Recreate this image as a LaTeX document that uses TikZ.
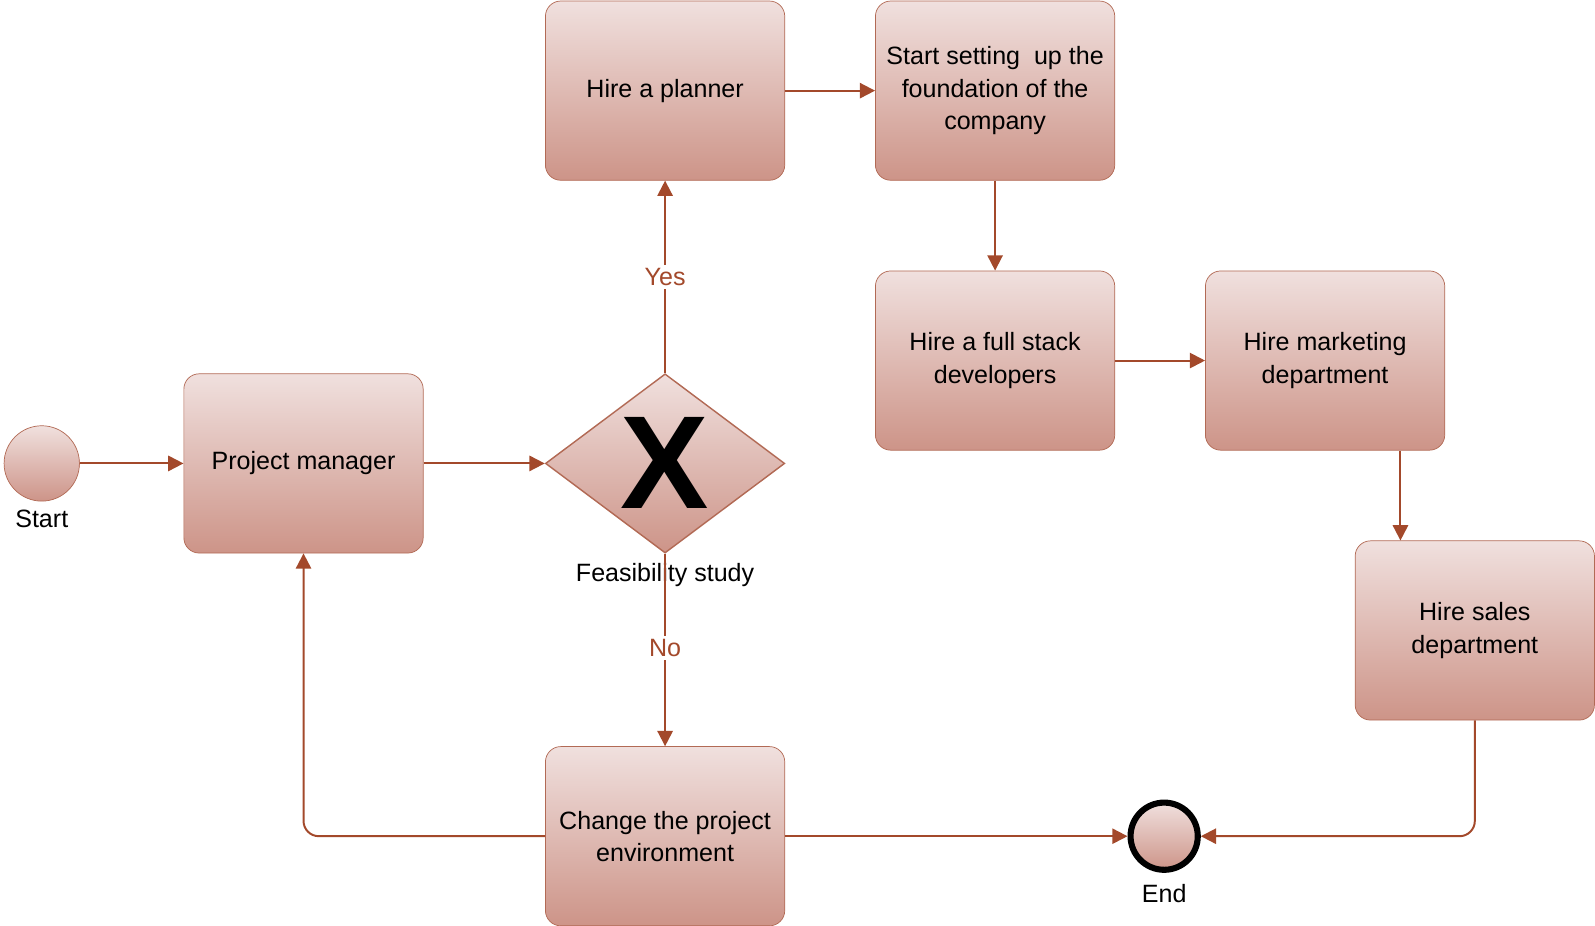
\documentclass[tikz,border=0pt]{standalone}
\usepackage{fontspec}
\setmainfont{Liberation Sans}
\usepackage{xcolor}
\usetikzlibrary{shapes.geometric, arrows.meta, positioning, calc}

\definecolor{flowline}{HTML}{A3492B}
\definecolor{boxtop}{HTML}{F0E0DE}
\definecolor{boxbottom}{HTML}{CD9488}
\definecolor{boxedge}{HTML}{B26A55}

\begin{document}
\begin{tikzpicture}[
    x=0.02cm, y=-0.02cm,
    font=\fontsize{14}{18}\selectfont,
    task/.style={rectangle, rounded corners=0.3cm, draw=boxedge, top color=boxtop, bottom color=boxbottom, minimum width=4.7cm, minimum height=3.52cm, align=center, inner sep=2pt},
    gateway/.style={diamond, draw=boxedge, thick, top color=boxtop, bottom color=boxbottom, minimum width=4.7cm, minimum height=3.52cm, inner sep=0pt},
    event/.style={circle, draw=boxedge, top color=boxtop, bottom color=boxbottom, minimum size=1.48cm, inner sep=0pt},
    endevent/.style={event, draw=black, line width=3.4pt, minimum size=1.32cm},
    answer/.style={fill=white, text=flowline, inner sep=2pt},
    arrow/.style={-{Triangle[length=0.3cm, width=0.3cm]}, draw=flowline, line width=1.1pt}
]
\useasboundingbox (0,0) rectangle (1566,909);

% Events
\node[event] (start) at (41,455) {};
\node[below=0.05cm of start] (startlbl) {Start};
\node[endevent] (end) at (1143,821) {};
\node[below=0.1cm of end] (endlbl) {End};

% Tasks
\node[task] (pm) at (298,455) {Project manager};
\node[task] (planner) at (653,89) {Hire a planner};
\node[task] (found) at (977,89) {Start setting\ \ up the\\foundation of the\\company};
\node[task] (devs) at (977,354) {Hire a full stack\\developers};
\node[task] (mkt) at (1301,354) {Hire marketing\\department};
\node[task] (sales) at (1448,619) {Hire sales\\department};
\node[task] (change) at (653,821) {Change the project\\environment};

% Gateway
\node[gateway] (gw) at (653,455) {};
\node[font=\fontsize{74}{74}\bfseries] (gwx) at (gw) {X};
\node (gwlbl) at (653,565) {Feasibility study};

% Connections
\draw[arrow] (start) -- (pm);
\draw[arrow] (pm) -- (gw);
\draw[arrow] (gw) -- node[answer] {Yes} (planner);
\draw[arrow] (gw) -- node[answer, pos=0.49] {No} (change);
\draw[arrow] (planner) -- (found);
\draw[arrow] (found) -- (devs);
\draw[arrow] (devs) -- (mkt);
\draw[arrow] ([xshift=1.48cm]mkt.south) -- ([xshift=1.48cm]mkt.south |- sales.north);
\draw[arrow, rounded corners=0.3cm] (sales.south) |- (end);
\draw[arrow] (change) -- (end);
\draw[arrow, rounded corners=0.3cm] (change.west) -| (pm.south);

\end{tikzpicture}
\end{document}
